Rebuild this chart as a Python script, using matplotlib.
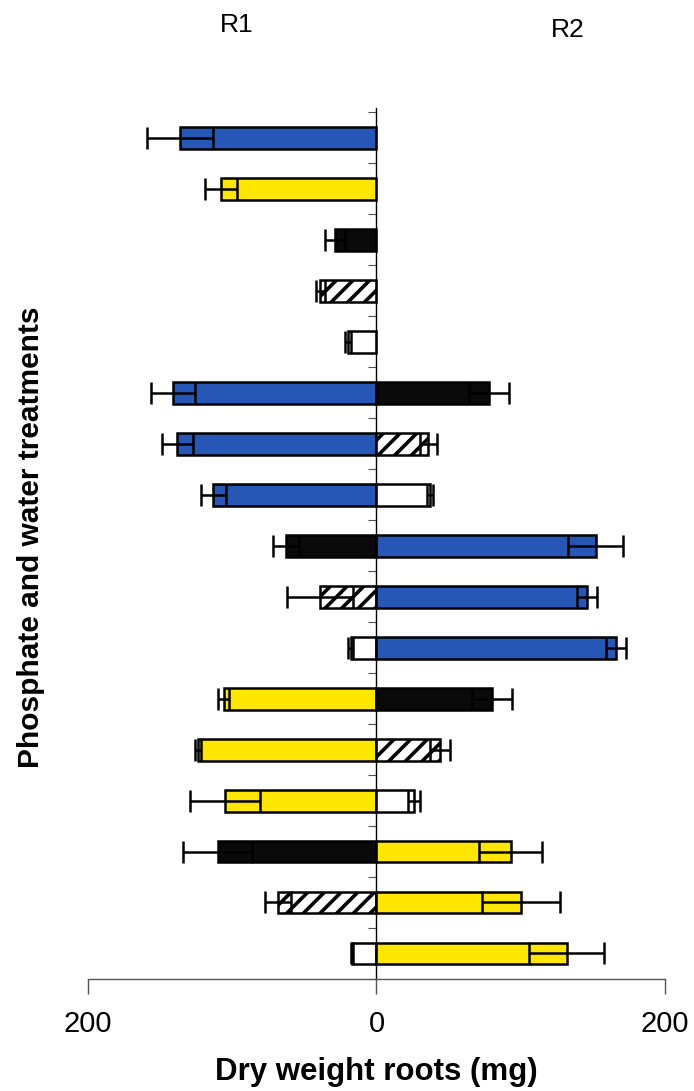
import matplotlib
matplotlib.use("Agg")
import matplotlib.pyplot as plt
import numpy as np

plt.rcParams['font.family'] = ['Liberation Sans', 'DejaVu Sans']
plt.rcParams['hatch.linewidth'] = 2.6

# Treatment rows, top to bottom (R1 plotted to the left, R2 to the right)
r1_values = [136, 108, 29, 39, 20, 141, 138, 113, 63, 39, 18, 106, 124, 105, 110, 68, 17]
r1_errors = [23, 11, 7, 3, 2, 15, 11, 9, 9, 23, 2, 4, 2, 24, 24, 9, 1]
r1_fills = ['blue', 'yellow', 'black', 'hatch', 'white',
            'blue', 'blue', 'blue', 'black', 'hatch', 'white',
            'yellow', 'yellow', 'yellow', 'black', 'hatch', 'white']

r2_values = [0, 0, 0, 0, 0, 78, 36, 37, 152, 146, 166, 80, 44, 26, 93, 100, 132]
r2_errors = [0, 0, 0, 0, 0, 14, 6, 2, 19, 7, 7, 14, 7, 4, 22, 27, 26]
r2_fills = ['none', 'none', 'none', 'none', 'none',
            'black', 'hatch', 'white', 'blue', 'blue', 'blue',
            'black', 'hatch', 'white', 'yellow', 'yellow', 'yellow']

x_ticks = [-200, 0, 200]
x_tick_labels = ['200', '0', '200']

styles = {
    'blue': dict(color='#2656b6', hatch=None),
    'yellow': dict(color='#ffe600', hatch=None),
    'black': dict(color='#0a0a0a', hatch=None),
    'hatch': dict(color='white', hatch='//'),
    'white': dict(color='white', hatch=None),
}

fig = plt.figure(figsize=(6.94, 10.91), dpi=100)
ax = fig.add_axes([0.1268, 0.1027, 0.8314, 0.7985])

rows = np.arange(len(r1_values))
bar_h = 0.43


def draw_side(values, errors, fills, sign):
    for y, v, e, f in zip(rows, values, errors, fills):
        if f == 'none' or v == 0:
            continue
        st = styles[f]
        ax.barh(y, sign * v, height=bar_h, color=st['color'], hatch=st['hatch'],
                edgecolor='black', linewidth=1.8, zorder=2)
        ax.errorbar(sign * v, y, xerr=e, fmt='none', ecolor='black',
                    elinewidth=1.8, capsize=8, capthick=1.8, zorder=3)


draw_side(r1_values, r1_errors, r1_fills, -1)
draw_side(r2_values, r2_errors, r2_fills, 1)

ax.set_xlim(-200, 200)
ax.set_ylim(16.47, -0.59)

# Central axis with row-separator ticks
ax.spines['left'].set_position(('data', 0))
ax.spines['left'].set_linewidth(1.0)
ax.spines['right'].set_visible(False)
ax.spines['top'].set_visible(False)
ax.spines['bottom'].set_linewidth(1.0)
ax.spines['bottom'].set_color('#555555')
ax.set_yticks(np.arange(-0.5, len(rows), 1.0))
ax.set_yticklabels([])
ax.tick_params(axis='y', direction='out', length=6, width=0.8, color='#555555')

ax.set_xticks(x_ticks)
ax.set_xticklabels(x_tick_labels, fontsize=21)
ax.tick_params(axis='x', direction='out', length=11, width=1.0, color='#555555', pad=11)

ax.set_xlabel('Dry weight roots (mg)', fontsize=22.5, fontweight='bold', labelpad=14)
fig.text(0.045, 0.508, 'Phosphate and water treatments', rotation=90,
         fontsize=21.5, fontweight='bold', ha='center', va='center')

fig.text(237 / 694, 1 - 25 / 1091, 'R1', fontsize=19, ha='center', va='center')
fig.text(568 / 694, 1 - 30 / 1091, 'R2', fontsize=19, ha='center', va='center')

fig.savefig('out.png', dpi=100)
